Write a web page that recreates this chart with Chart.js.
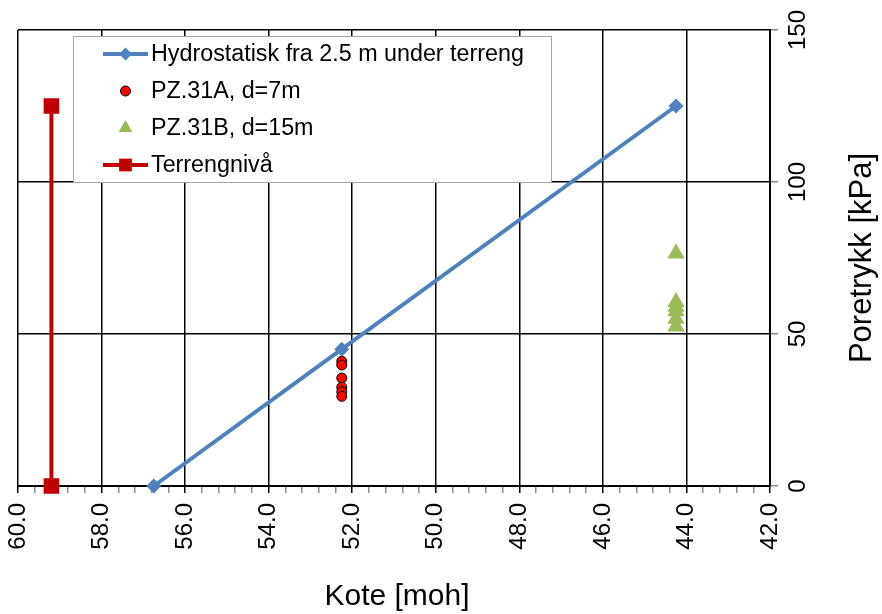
<!DOCTYPE html>
<html>
<head>
<meta charset="utf-8">
<script src="https://cdn.jsdelivr.net/npm/chart.js@4.4.1/dist/chart.umd.min.js"></script>
<style>
  html, body { margin: 0; padding: 0; background: #fff; }
  #wrap { width: 882px; height: 614px; position: relative; }
</style>
</head>
<body>
<div id="wrap"><canvas id="poreChart"></canvas></div>
<script>
// ── Data ────────────────────────────────────────────────────────────
const hydroKote   = [56.75, 52.25, 44.25];
const hydroTrykk  = [0, 45, 125];
const pz31aKote   = [52.25, 52.25, 52.25, 52.25, 52.25, 52.25];
const pz31aTrykk  = [41.0, 39.8, 35.5, 32.5, 31.0, 29.5];
const pz31bKote   = [44.25, 44.25, 44.25, 44.25, 44.25, 44.25];
const pz31bTrykk  = [76.5, 60.5, 59.0, 57.5, 55.0, 52.5];
const terrengKote  = [59.2, 59.2];
const terrengTrykk = [0, 125];

const seriesNames = ['Hydrostatisk fra 2.5 m under terreng', 'PZ.31A, d=7m', 'PZ.31B, d=15m', 'Terrengnivå'];
const xRange = [42, 60];     // kote, shown reversed
const xMajor = 2;
const xMinor = 0.4;
const yRange = [0, 150];
const yMajor = 50;
const xTitle = 'Kote [moh]';
const yTitle = 'Poretrykk [kPa]';

const FONT = "'Liberation Sans', Arial, sans-serif";

function toPoints(xs, ys) {
  return xs.map(function(x, i) { return { x: x, y: ys[i] }; });
}
function isMajor(v) {
  return Math.abs(v / xMajor - Math.round(v / xMajor)) < 1e-6;
}

// ── Legend box drawn inside the plot ────────────────────────────────
const boxLegend = {
  id: 'boxLegend',
  afterDatasetsDraw(chart) {
    const ctx = chart.ctx;
    ctx.save();
    ctx.fillStyle = '#fff';
    ctx.fillRect(73.5, 36.5, 478, 146);
    ctx.strokeStyle = '#a6a6a6';
    ctx.lineWidth = 1;
    ctx.strokeRect(73.5, 36.5, 478, 146);

    chart.data.datasets.forEach(function(ds, i) {
      const y = 54 + i * 37;
      if (ds.showLine) {
        ctx.beginPath();
        ctx.moveTo(103, y);
        ctx.lineTo(148, y);
        ctx.strokeStyle = ds.borderColor;
        ctx.lineWidth = ds.borderWidth;
        ctx.stroke();
      }
      ctx.fillStyle = ds.pointBackgroundColor;
      ctx.strokeStyle = ds.pointBorderColor;
      ctx.lineWidth = ds.pointBorderWidth || 0;
      Chart.helpers.drawPoint(ctx, {
        pointStyle: ds.pointStyle,
        radius: ds.legendRadius,
        borderWidth: ds.pointBorderWidth || 0,
        rotation: 0
      }, 125.5, y);

      ctx.fillStyle = '#000';
      ctx.font = '23.3px ' + FONT;
      ctx.textAlign = 'left';
      ctx.textBaseline = 'middle';
      ctx.fillText(ds.label, 151, y + 1);
    });
    ctx.restore();
  }
};

// ── Rotated y tick labels and both axis titles ──────────────────────
const axisText = {
  id: 'axisText',
  afterDraw(chart) {
    const ctx = chart.ctx;
    const ys = chart.scales.y;
    const area = chart.chartArea;
    ctx.save();
    ctx.fillStyle = '#000';
    ctx.textAlign = 'center';
    ctx.textBaseline = 'middle';

    ctx.font = '24px ' + FONT;
    ys.ticks.forEach(function(t) {
      const py = ys.getPixelForValue(t.value);
      ctx.save();
      ctx.translate(area.right + 28, py);
      ctx.rotate(-Math.PI / 2);
      ctx.fillText(String(t.value), 0, 0);
      ctx.restore();
    });

    ctx.font = '31px ' + FONT;
    ctx.save();
    ctx.translate(area.right + 92, (area.top + area.bottom) / 2);
    ctx.rotate(-Math.PI / 2);
    ctx.fillText(yTitle, 0, 0);
    ctx.restore();

    ctx.font = '30px ' + FONT;
    ctx.fillText(xTitle, (area.left + area.right) / 2 + 3, 597);
    ctx.restore();
  }
};

new Chart(document.getElementById('poreChart'), {
  type: 'scatter',
  data: {
    datasets: [
      {
        label: seriesNames[0],
        data: toPoints(hydroKote, hydroTrykk),
        showLine: true,
        clip: false,
        borderColor: '#4f81bd',
        borderWidth: 4,
        pointStyle: 'rectRot',
        pointRadius: 7.5,
        legendRadius: 6.5,
        pointBackgroundColor: '#4f81bd',
        pointBorderColor: '#4f81bd',
        pointBorderWidth: 0
      },
      {
        label: seriesNames[1],
        data: toPoints(pz31aKote, pz31aTrykk),
        showLine: false,
        clip: false,
        pointStyle: 'circle',
        pointRadius: 5,
        legendRadius: 5,
        pointBackgroundColor: '#ff0000',
        pointBorderColor: '#000',
        pointBorderWidth: 1
      },
      {
        label: seriesNames[2],
        data: toPoints(pz31bKote, pz31bTrykk),
        showLine: false,
        clip: false,
        pointStyle: 'triangle',
        pointRadius: 10,
        legendRadius: 8,
        pointBackgroundColor: '#9bbb59',
        pointBorderColor: '#9bbb59',
        pointBorderWidth: 0
      },
      {
        label: seriesNames[3],
        data: toPoints(terrengKote, terrengTrykk),
        showLine: true,
        clip: false,
        borderColor: '#c00000',
        borderWidth: 4,
        pointStyle: 'rect',
        pointRadius: 11,
        legendRadius: 9,
        pointBackgroundColor: '#c00000',
        pointBorderColor: '#c00000',
        pointBorderWidth: 0
      }
    ]
  },
  options: {
    responsive: true,
    maintainAspectRatio: false,
    animation: false,
    layout: { padding: { left: 18, top: 30, right: 0, bottom: 0 } },
    plugins: {
      legend: { display: false },
      tooltip: { enabled: false }
    },
    scales: {
      x: {
        type: 'linear',
        position: 'bottom',
        min: xRange[0],
        max: xRange[1],
        reverse: true,
        afterFit: function(s) { s.height = 128; },
        ticks: {
          stepSize: xMinor,
          autoSkip: false,
          minRotation: 90,
          maxRotation: 90,
          padding: 10,
          color: '#000',
          font: { family: FONT, size: 24 },
          callback: function(v) { return isMajor(v) ? v.toFixed(1) : ''; }
        },
        grid: {
          color: function(c) { return c.tick && isMajor(c.tick.value) ? '#000' : 'rgba(0,0,0,0)'; },
          tickColor: function(c) { return c.tick && isMajor(c.tick.value) ? '#000' : '#8c8c8c'; },
          lineWidth: 1.5,
          tickLength: 7
        },
        border: { color: '#000', width: 2 }
      },
      y: {
        type: 'linear',
        position: 'right',
        min: yRange[0],
        max: yRange[1],
        afterFit: function(s) { s.width = 112; },
        ticks: { stepSize: yMajor, display: false },
        grid: { color: '#000', lineWidth: 1.5, tickLength: 8, tickColor: '#8c8c8c' },
        border: { color: '#000', width: 2 }
      }
    }
  },
  plugins: [boxLegend, axisText]
});
</script>
</body>
</html>
